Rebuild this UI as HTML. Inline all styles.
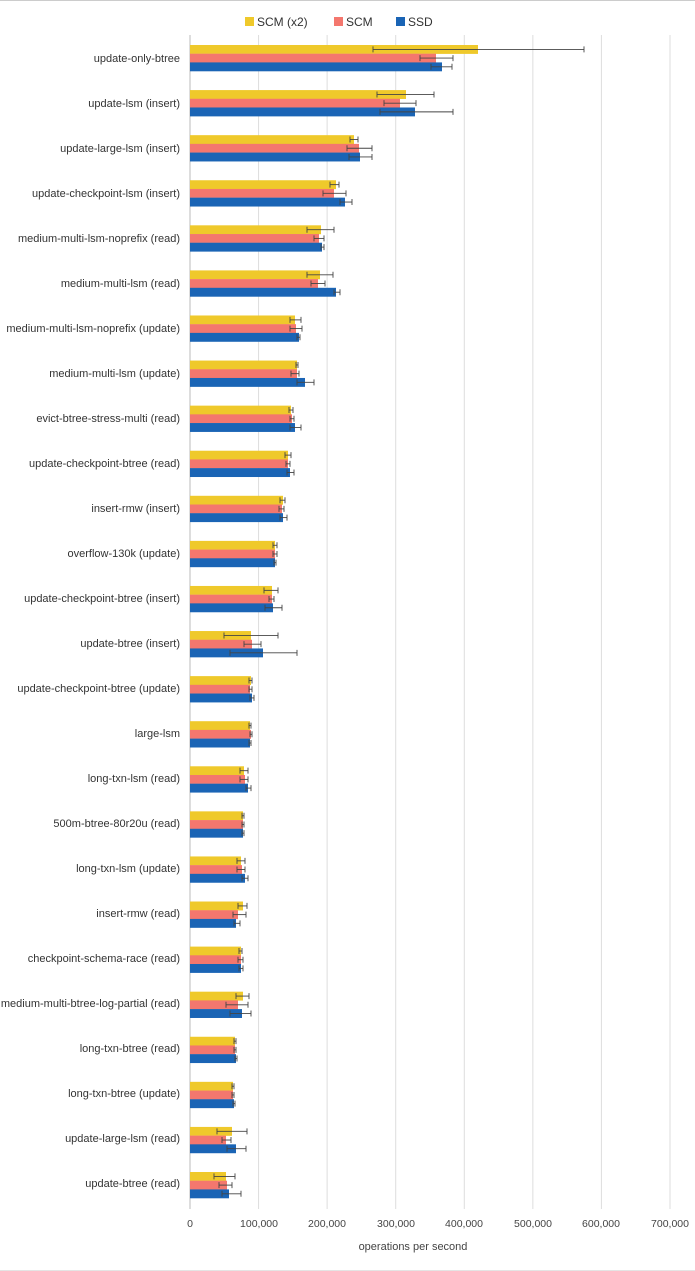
<!DOCTYPE html>
<html><head><meta charset="utf-8"><style>
html,body{margin:0;padding:0;background:#fff;}
svg{display:block;font-family:"Liberation Sans",Arial,sans-serif;}
</style></head><body>
<svg id="c" width="695" height="1271" viewBox="0 0 695 1271">
<rect x="0" y="0" width="695" height="1271" fill="#fff"/>
<line x1="0" y1="0.5" x2="695" y2="0.5" stroke="#ccc"/>
<line x1="0" y1="1270.5" x2="695" y2="1270.5" stroke="#e4e4e4"/>
<g id="grid"></g>
<g font-size="12" fill="#333">
<rect x="245" y="17" width="9" height="9" fill="#EFC92B"/><text x="257" y="26">SCM (x2)</text>
<rect x="334" y="17" width="9" height="9" fill="#F4776E"/><text x="346" y="26">SCM</text>
<rect x="396" y="17" width="9" height="9" fill="#1A64B5"/><text x="408" y="26">SSD</text>
</g>
<g font-size="11" fill="#333" text-anchor="end">
<text x="180" y="62">update-only-btree</text>
<text x="180" y="107">update-lsm (insert)</text>
<text x="180" y="152">update-large-lsm (insert)</text>
<text x="180" y="197">update-checkpoint-lsm (insert)</text>
<text x="180" y="242">medium-multi-lsm-noprefix (read)</text>
<text x="180" y="287">medium-multi-lsm (read)</text>
<text x="180" y="332">medium-multi-lsm-noprefix (update)</text>
<text x="180" y="377">medium-multi-lsm (update)</text>
<text x="180" y="422">evict-btree-stress-multi (read)</text>
<text x="180" y="467">update-checkpoint-btree (read)</text>
<text x="180" y="512">insert-rmw (insert)</text>
<text x="180" y="557">overflow-130k (update)</text>
<text x="180" y="602">update-checkpoint-btree (insert)</text>
<text x="180" y="647">update-btree (insert)</text>
<text x="180" y="692">update-checkpoint-btree (update)</text>
<text x="180" y="737">large-lsm</text>
<text x="180" y="782">long-txn-lsm (read)</text>
<text x="180" y="827">500m-btree-80r20u (read)</text>
<text x="180" y="872">long-txn-lsm (update)</text>
<text x="180" y="917">insert-rmw (read)</text>
<text x="180" y="962">checkpoint-schema-race (read)</text>
<text x="180" y="1007">medium-multi-btree-log-partial (read)</text>
<text x="180" y="1052">long-txn-btree (read)</text>
<text x="180" y="1097">long-txn-btree (update)</text>
<text x="180" y="1142">update-large-lsm (read)</text>
<text x="180" y="1187">update-btree (read)</text>
</g>
<g font-size="10.5" fill="#444" text-anchor="middle">
<text x="190" y="1227">0</text>
<text x="259" y="1227">100,000</text>
<text x="327" y="1227">200,000</text>
<text x="396" y="1227">300,000</text>
<text x="464" y="1227">400,000</text>
<text x="533" y="1227">500,000</text>
<text x="601" y="1227">600,000</text>
<text x="670" y="1227">700,000</text>
</g>
<text x="413" y="1250" font-size="11" fill="#444" text-anchor="middle">operations per second</text>
<g id="bars"></g>
</svg>
<script>
(function(){
var g=document.getElementById('grid'),b=document.getElementById('bars'),ns='http://www.w3.org/2000/svg';
function el(p,t,a){var e=document.createElementNS(ns,t);for(var k in a)e.setAttribute(k,a[k]);p.appendChild(e);return e;}
for(var i=0;i<8;i++){var x=190+i*68.57;el(g,'line',{x1:x,y1:35,x2:x,y2:1209,stroke:i==0?'#bbb':'#ddd','stroke-width':1});}
var D=[
[[478,373,584],[436,420,453],[442,431,452]],
[[406,377,434],[400,384,416],[415,380,453]],
[[354,350,358],[359,347,372],[360,349,372]],
[[336,330,339],[334,323,346],[345,340,352]],
[[321,307,334],[319,314,324],[322,321,324]],
[[320,307,333],[318,311,325],[336,334,340]],
[[295,290,301],[296,290,302],[299,297,300]],
[[297,296,298],[297,291,299],[305,297,314]],
[[291,289,293],[292,290,294],[295,290,301]],
[[288,285,291],[288,286,290],[290,287,294]],
[[283,280,285],[282,279,284],[283,280,287]],
[[275,273,277],[275,273,277],[275,274,276]],
[[272,264,278],[272,269,274],[273,265,282]],
[[251,224,278],[252,244,261],[263,230,297]],
[[251,249,252],[250,249,252],[252,250,254]],
[[250,249,251],[251,250,252],[250,249,251]],
[[244,240,248],[245,240,248],[248,246,251]],
[[243,242,244],[243,242,244],[243,242,244]],
[[241,237,245],[242,237,245],[245,242,248]],
[[243,238,247],[238,233,246],[236,234,240]],
[[241,239,242],[241,238,243],[241,239,243]],
[[243,236,249],[238,226,248],[242,230,251]],
[[235,234,236],[235,234,236],[236,235,237]],
[[233,232,234],[233,232,234],[234,233,235]],
[[232,217,247],[226,222,231],[236,227,246]],
[[226,214,235],[227,219,232],[229,222,241]]];
var C=['#EFC92B','#F4776E','#1A64B5'];
for(var i=0;i<D.length;i++){var ty=45+i*45.08;
for(var j=0;j<3;j++){var y=ty+j*8.7,d=D[i][j];
el(b,'rect',{x:190,y:y,width:d[0]-190,height:8.9,fill:C[j]});
var cy=y+4.4;
el(b,'line',{x1:d[1],y1:cy,x2:d[2],y2:cy,stroke:'#444','stroke-width':0.9});
el(b,'line',{x1:d[1],y1:cy-3,x2:d[1],y2:cy+3,stroke:'#444','stroke-width':0.9});
el(b,'line',{x1:d[2],y1:cy-3,x2:d[2],y2:cy+3,stroke:'#444','stroke-width':0.9});
}}
})();
</script>
</body></html>
